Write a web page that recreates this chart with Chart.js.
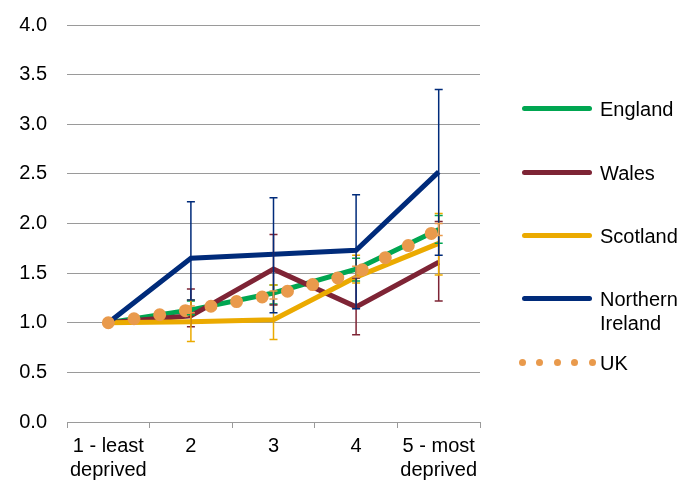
<!DOCTYPE html>
<html>
<head>
<meta charset="utf-8">
<script src="https://cdn.jsdelivr.net/npm/chart.js@4/dist/chart.umd.min.js"></script>
<style>
  html, body { margin: 0; padding: 0; background: #fff; }
  #wrap { position: relative; width: 688px; height: 482px; }
  #legend { position: absolute; left: 522px; top: 0; font-family: "Liberation Sans", Arial, sans-serif; font-size: 20px; color: #000; }
  .item { position: absolute; left: 0; display: flex; align-items: flex-start; white-space: nowrap; }
  .swatch { width: 70px; height: 24px; position: relative; margin-right: 8px; }
  .swatch .bar { position: absolute; left: 0; right: 0; top: 9px; height: 5px; border-radius: 3px; }
  .swatch .dot { position: absolute; top: 8px; width: 7px; height: 7px; border-radius: 50%; }
  .label { line-height: 24px; }
</style>
</head>
<body>
<div id="wrap">
  <canvas id="chart" width="688" height="482"></canvas>
  <div id="legend"></div>
</div>
<script>
// categories on the x axis
const categories = [['1 - least', 'deprived'], '2', '3', '4', ['5 - most', 'deprived']];

// series values
const england = [1.0, 1.13, 1.30, 1.54, 1.94];
const wales = [1.0, 1.07, 1.54, 1.16, 1.61];
const scotland = [1.0, 1.01, 1.03, 1.46, 1.80];
const northernIreland = [1.0, 1.65, 1.69, 1.73, 2.52];
const uk = [1.0, 1.13, 1.28, 1.50, 1.94];

// error bar limits
const englandLow = [null, 1.08, 1.19, 1.42, 1.80];
const englandHigh = [null, 1.22, 1.38, 1.65, 2.08];
const walesLow = [null, 0.96, 1.18, 0.88, 1.22];
const walesHigh = [null, 1.34, 1.89, 1.45, 2.02];
const scotlandLow = [null, 0.81, 0.83, 1.40, 1.48];
const scotlandHigh = [null, 1.23, 1.38, 1.68, 2.10];
const niLow = [null, 1.23, 1.10, 1.14, 1.68];
const niHigh = [null, 2.22, 2.26, 2.29, 3.35];
const ukLow = [null, 1.10, 1.24, 1.46, 1.88];
const ukHigh = [null, 1.17, 1.32, 1.57, 2.00];

// y axis
const yTicks = [0, 0.5, 1.0, 1.5, 2.0, 2.5, 3.0, 3.5, 4.0];

const colors = {
  england: '#00A651',
  wales: '#7E2435',
  scotland: '#EBAA00',
  ni: '#002B7A',
  uk: '#E99A4C'
};

// draw vertical error bars with caps, using the chart scales
const errorBars = {
  id: 'errorBars',
  afterDatasetsDraw(chart) {
    const ctx = chart.ctx;
    const x = chart.scales.x;
    const y = chart.scales.y;
    chart.data.datasets.forEach((ds) => {
      if (!ds.errLow) return;
      ctx.save();
      ctx.strokeStyle = ds.borderColor;
      ctx.lineWidth = 1.5;
      ds.errLow.forEach((lo, i) => {
        const hi = ds.errHigh[i];
        if (lo == null || hi == null) return;
        const px = x.getPixelForValue(i);
        const y1 = y.getPixelForValue(lo);
        const y2 = y.getPixelForValue(hi);
        ctx.beginPath();
        ctx.moveTo(px, y1); ctx.lineTo(px, y2);
        ctx.moveTo(px - 4, y1); ctx.lineTo(px + 4, y1);
        ctx.moveTo(px - 4, y2); ctx.lineTo(px + 4, y2);
        ctx.stroke();
      });
      ctx.restore();
    });
  }
};

new Chart(document.getElementById('chart'), {
  type: 'line',
  data: {
    labels: categories,
    datasets: [
      { label: 'England', data: england, borderColor: colors.england, borderWidth: 5, pointRadius: 0, order: 4, errLow: englandLow, errHigh: englandHigh },
      { label: 'Wales', data: wales, borderColor: colors.wales, borderWidth: 5, pointRadius: 0, order: 3, errLow: walesLow, errHigh: walesHigh },
      { label: 'Scotland', data: scotland, borderColor: colors.scotland, borderWidth: 5, pointRadius: 0, order: 2, errLow: scotlandLow, errHigh: scotlandHigh },
      { label: 'Northern Ireland', data: northernIreland, borderColor: colors.ni, borderWidth: 5, pointRadius: 0, order: 1, errLow: niLow, errHigh: niHigh },
      { label: 'UK', data: uk, borderColor: colors.uk, borderWidth: 13, borderCapStyle: 'round', borderDash: [0, 26], pointRadius: 0, order: 0, errLow: ukLow, errHigh: ukHigh }
    ]
  },
  options: {
    responsive: false,
    animation: false,
    layout: { padding: { top: 25, right: 208, left: 0, bottom: 0 } },
    plugins: { legend: { display: false }, tooltip: { enabled: false } },
    scales: {
      x: {
        offset: true,
        afterFit: (s) => { s.height = 60; s.paddingLeft = 0; s.paddingRight = 0; },
        grid: { offset: true, drawOnChartArea: false, tickLength: 6, color: '#9a9a9a', lineWidth: 1 },
        border: { display: true, color: '#9a9a9a', width: 1 },
        ticks: { color: '#000', padding: 6, maxRotation: 0, font: { family: 'Liberation Sans', size: 20 } }
      },
      y: {
        min: 0,
        max: 4,
        afterFit: (s) => { s.width = 67; s.paddingTop = 0; s.paddingBottom = 0; },
        afterBuildTicks: (s) => { s.ticks = yTicks.map((v) => ({ value: v })); },
        grid: { color: '#9a9a9a', lineWidth: 1, drawTicks: false },
        border: { display: false },
        ticks: { color: '#000', padding: 20, callback: (v) => v.toFixed(1), font: { family: 'Liberation Sans', size: 20 } }
      }
    }
  },
  plugins: [errorBars]
});

// html legend on the right
const legendItems = [
  { text: ['England'], color: colors.england, top: 97 },
  { text: ['Wales'], color: colors.wales, top: 161 },
  { text: ['Scotland'], color: colors.scotland, top: 224 },
  { text: ['Northern', 'Ireland'], color: colors.ni, top: 287 },
  { text: ['UK'], color: colors.uk, top: 351, dots: true }
];
const legend = document.getElementById('legend');
legendItems.forEach((it) => {
  const item = document.createElement('div');
  item.className = 'item';
  item.style.top = it.top + 'px';
  const sw = document.createElement('div');
  sw.className = 'swatch';
  if (it.dots) {
    [0, 17.5, 35, 52.5, 70].forEach((dx) => {
      const d = document.createElement('div');
      d.className = 'dot';
      d.style.left = (dx - 3.5) + 'px';
      d.style.background = it.color;
      sw.appendChild(d);
    });
  } else {
    const b = document.createElement('div');
    b.className = 'bar';
    b.style.background = it.color;
    sw.appendChild(b);
  }
  const lab = document.createElement('div');
  lab.className = 'label';
  lab.innerHTML = it.text.join('<br>');
  item.appendChild(sw);
  item.appendChild(lab);
  legend.appendChild(item);
});
</script>
</body>
</html>
